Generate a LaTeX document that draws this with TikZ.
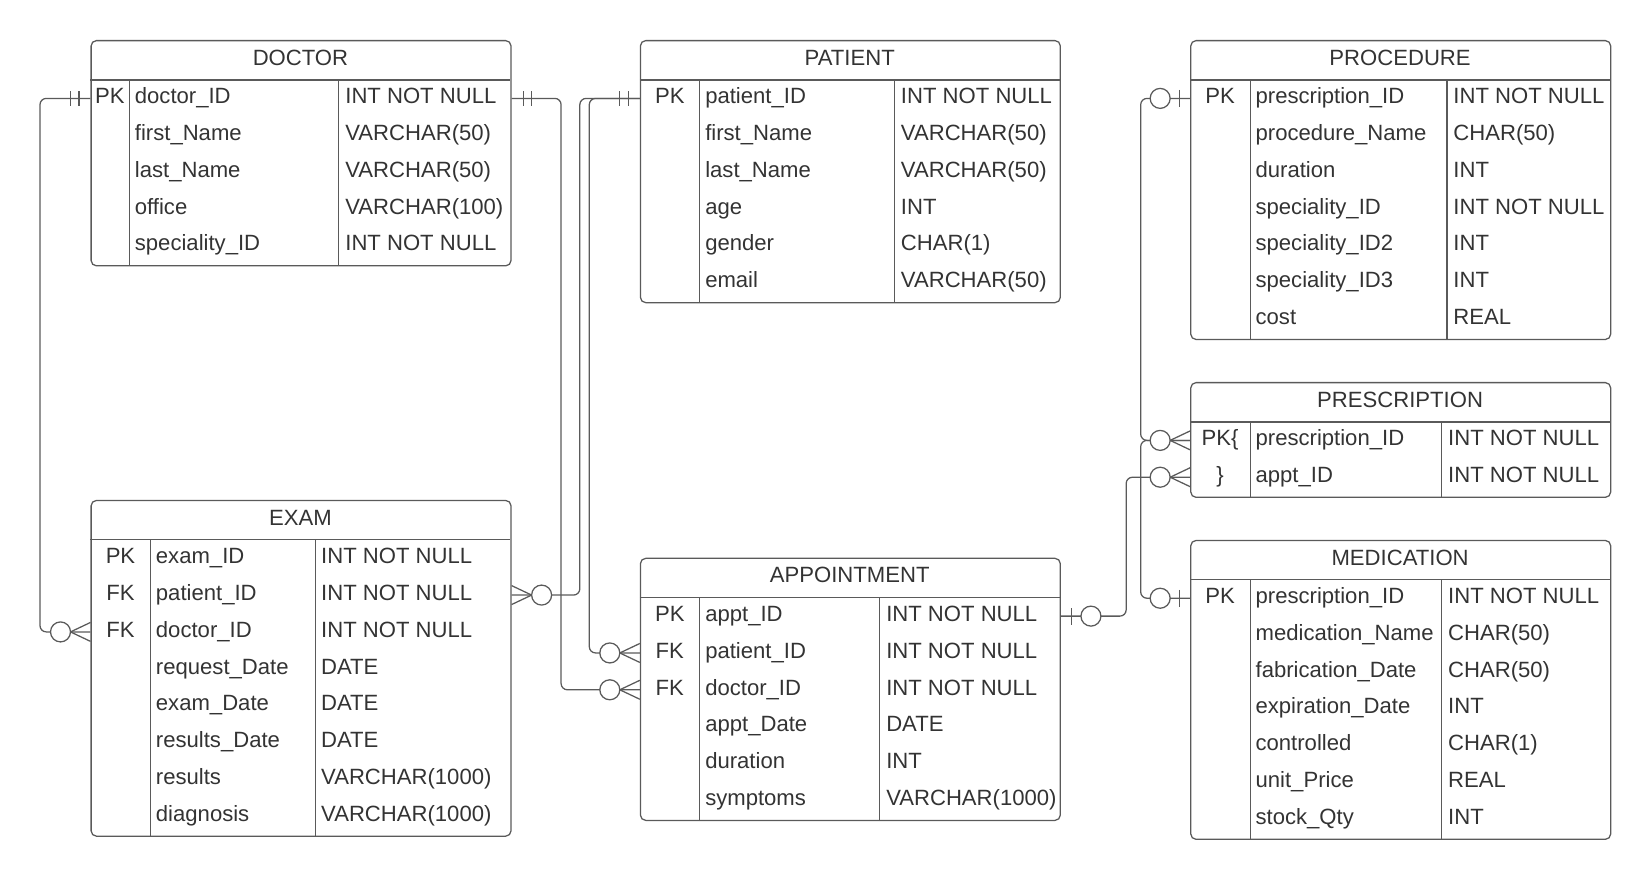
\documentclass[tikz,border=0pt]{standalone}
\usepackage{fontspec}
\setmainfont{Liberation Sans}
\definecolor{erline}{HTML}{5A5A5A}
\definecolor{ertext}{HTML}{333333}

\begin{document}
\begin{tikzpicture}[x=1pt,y=-1pt,
        tbl/.style={draw=erline,line width=1.2pt,rounded corners=5pt,anchor=north west,minimum width=399pt,inner sep=0pt},
        grid/.style={draw=erline,line width=1.2pt},
        conn/.style={draw=erline,line width=1.2pt,rounded corners=6pt},
        cell/.style={text=ertext,font=\fontsize{21pt}{25pt}\selectfont,inner sep=0pt,text height=15pt,text depth=5pt},
        key/.style={cell,anchor=center},
        field/.style={cell,anchor=west},
        one/.pic={\draw[grid] (-11,-7) -- (-11,7) (-19,-7) -- (-19,7);},
        zone/.pic={\draw[grid,fill=white] (-28.5,0) circle[radius=9.5]; \draw[grid] (-10,-8) -- (-10,8);},
        zmany/.pic={\draw[grid,fill=white] (-28.5,0) circle[radius=9.5]; \draw[grid] (-19,0) -- (0,-9) (-19,0) -- (0,9);}]

        \useasboundingbox (0,0) rectangle (1568,835);

        \foreach \nm/\ttl/\xa/\ya/\n/\ca/\cb in {doctor/DOCTOR/86/38/5/123/322, patient/PATIENT/608/38/6/665/850, procedure/PROCEDURE/1131/38/7/1188/1375, prescription/PRESCRIPTION/1131/363/2/1188/1370, medication/MEDICATION/1131/513/7/1188/1370, exam/EXAM/86/475/8/143/300, appointment/APPOINTMENT/608/530/6/665/836}{
            \pgfmathsetmacro{\hh}{39+35*\n}
            \node[tbl,minimum height=\hh pt] (\nm) at (\xa,\ya) {};
            \draw[grid] (\xa,\ya+38) -- (\xa+399,\ya+38);
            \draw[grid] (\ca,\ya+38) -- (\ca,\ya+\hh) (\cb,\ya+38) -- (\cb,\ya+\hh);
            \node[key] (\nm-title) at (\xa+199.5,\ya+19) {\ttl};
        }

        \foreach \k/\f/\t [count=\i] in {PK/doctor\_ID/INT NOT NULL, /first\_Name/VARCHAR(50), /last\_Name/VARCHAR(50), /office/VARCHAR(100), /speciality\_ID/INT NOT NULL}{
            \node[key] (doctork\i) at (104.5,58.5+35*\i) {\k};
            \node[field] (doctorf\i) at (128,58.5+35*\i) {\f};
            \node[field] (doctort\i) at (328,58.5+35*\i) {\t};
        }

        \foreach \k/\f/\t [count=\i] in {PK/patient\_ID/INT NOT NULL, /first\_Name/VARCHAR(50), /last\_Name/VARCHAR(50), /age/INT, /gender/CHAR(1), /email/VARCHAR(50)}{
            \node[key] (patientk\i) at (636.5,58.5+35*\i) {\k};
            \node[field] (patientf\i) at (670,58.5+35*\i) {\f};
            \node[field] (patientt\i) at (856,58.5+35*\i) {\t};
        }

        \foreach \k/\f/\t [count=\i] in {PK/prescription\_ID/INT NOT NULL, /procedure\_Name/CHAR(50), /duration/INT, /speciality\_ID/INT NOT NULL, /speciality\_ID2/INT, /speciality\_ID3/INT, /cost/REAL}{
            \node[key] (procedurek\i) at (1159.5,58.5+35*\i) {\k};
            \node[field] (proceduref\i) at (1193,58.5+35*\i) {\f};
            \node[field] (proceduret\i) at (1381,58.5+35*\i) {\t};
        }

        \foreach \k/\f/\t [count=\i] in {PK\{/prescription\_ID/INT NOT NULL, \}/appt\_ID/INT NOT NULL}{
            \node[key] (prescriptionk\i) at (1159.5,383.5+35*\i) {\k};
            \node[field] (prescriptionf\i) at (1193,383.5+35*\i) {\f};
            \node[field] (prescriptiont\i) at (1376,383.5+35*\i) {\t};
        }

        \foreach \k/\f/\t [count=\i] in {PK/prescription\_ID/INT NOT NULL, /medication\_Name/CHAR(50), /fabrication\_Date/CHAR(50), /expiration\_Date/INT, /controlled/CHAR(1), /unit\_Price/REAL, /stock\_Qty/INT}{
            \node[key] (medicationk\i) at (1159.5,533.5+35*\i) {\k};
            \node[field] (medicationf\i) at (1193,533.5+35*\i) {\f};
            \node[field] (medicationt\i) at (1376,533.5+35*\i) {\t};
        }

        \foreach \k/\f/\t [count=\i] in {PK/exam\_ID/INT NOT NULL, FK/patient\_ID/INT NOT NULL, FK/doctor\_ID/INT NOT NULL, /request\_Date/DATE, /exam\_Date/DATE, /results\_Date/DATE, /results/VARCHAR(1000), /diagnosis/VARCHAR(1000)}{
            \node[key] (examk\i) at (114.5,495.5+35*\i) {\k};
            \node[field] (examf\i) at (148,495.5+35*\i) {\f};
            \node[field] (examt\i) at (305,495.5+35*\i) {\t};
        }

        \foreach \k/\f/\t [count=\i] in {PK/appt\_ID/INT NOT NULL, FK/patient\_ID/INT NOT NULL, FK/doctor\_ID/INT NOT NULL, /appt\_Date/DATE, /duration/INT, /symptoms/VARCHAR(1000)}{
            \node[key] (appointmentk\i) at (636.5,550.5+35*\i) {\k};
            \node[field] (appointmentf\i) at (670,550.5+35*\i) {\f};
            \node[field] (appointmentt\i) at (842,550.5+35*\i) {\t};
        }

        \draw[conn] (doctor.west |- doctork1) -- ++(-48,0) |- (exam.west |- examk3);
        \draw[conn] (doctor.east |- doctork1) -- ++(47,0) |- (appointment.west |- appointmentk3);
        \draw[conn] (patient.west |- patientk1) -- ++(-57,0) |- (exam.east |- examk2);
        \draw[conn] (patient.west |- patientk1) -- ++(-48,0) |- (appointment.west |- appointmentk2);
        \draw[conn] (procedure.west |- procedurek1) -- ++(-47,0) |- (prescription.west |- prescriptionk1);
        \draw[conn] (medication.west |- medicationk1) -- ++(-47,0) |- (prescription.west |- prescriptionk1);
        \draw[conn] (appointment.east |- appointmentk1) -- ++(62,0) |- (prescription.west |- prescriptionk2);

        \pic at (doctor.west |- doctork1) {one};
        \pic[rotate=180] at (doctor.east |- doctork1) {one};
        \pic at (patient.west |- patientk1) {one};
        \pic at (exam.west |- examk3) {zmany};
        \pic[rotate=180] at (exam.east |- examk2) {zmany};
        \pic at (appointment.west |- appointmentk2) {zmany};
        \pic at (appointment.west |- appointmentk3) {zmany};
        \pic at (procedure.west |- procedurek1) {zone};
        \pic at (medication.west |- medicationk1) {zone};
        \pic at (prescription.west |- prescriptionk1) {zmany};
        \pic at (prescription.west |- prescriptionk2) {zmany};
        \pic[rotate=180] at (appointment.east |- appointmentk1) {zone};
    \end{tikzpicture}
\end{document}
